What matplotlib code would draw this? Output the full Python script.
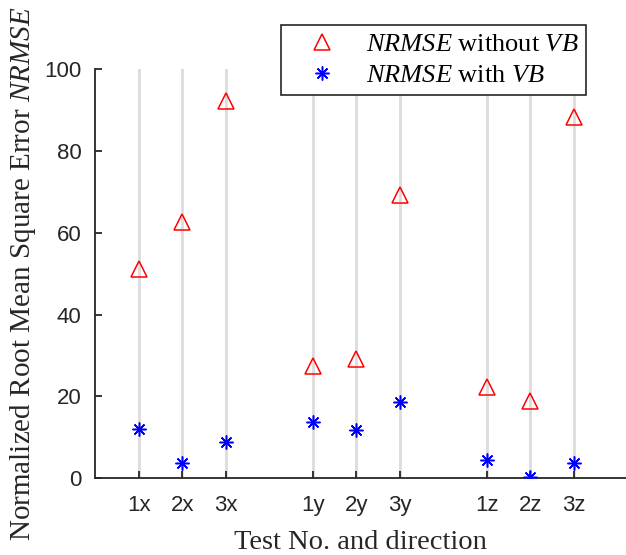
import numpy as np
import matplotlib
matplotlib.use('Agg')
import matplotlib.pyplot as plt

# data
tests = ['1x', '2x', '3x', '1y', '2y', '3y', '1z', '2z', '3z']
xpos = [1, 2, 3, 5, 6, 7, 9, 10, 11]
nrmseWithout = [51.1, 62.5, 92.2, 27.4, 29.1, 69.2, 22.4, 19.0, 88.3]
nrmseWith = [12.0, 3.8, 8.9, 13.7, 11.7, 18.6, 4.6, 0.3, 3.8]

plt.rcParams['mathtext.fontset'] = 'custom'
plt.rcParams['mathtext.rm'] = 'Liberation Serif'
plt.rcParams['mathtext.it'] = 'Liberation Serif:italic'

axcol = '#262626'

fig = plt.figure(figsize=(6.26, 5.55), dpi=100)
ax = fig.add_axes([0.152, 0.138, 0.848, 0.738])

# vertical grid at each test
for xp in xpos:
    ax.plot([xp, xp], [0, 100], color='#dcdcdc', linewidth=2, zorder=1)

ax.plot(xpos, nrmseWithout, linestyle='none', marker='^', markersize=11,
        markerfacecolor='none', markeredgecolor='r', markeredgewidth=1.1,
        label='$NRMSE$ without $VB$', zorder=3)
ax.plot(xpos, nrmseWith, linestyle='none', marker=(8, 2, 0), markersize=10,
        color='b', markeredgewidth=1.1,
        label='$NRMSE$ with $VB$', zorder=3)

ax.set_xlim(0, 12.2)
ax.set_ylim(0, 100)
ax.set_xticks(xpos)
ax.set_xticklabels(tests)
ax.set_yticks([0, 20, 40, 60, 80, 100])
ax.spines['top'].set_visible(False)
ax.spines['right'].set_visible(False)
for s in ['left', 'bottom']:
    ax.spines[s].set_color(axcol)
    ax.spines[s].set_linewidth(1.3)
ax.tick_params(direction='in', length=5, width=1.3, color=axcol,
               labelcolor=axcol)
ax.tick_params(axis='x', pad=12)
ax.tick_params(axis='y', pad=10)
for lab in ax.get_xticklabels() + ax.get_yticklabels():
    lab.set_family('Liberation Sans')
    lab.set_fontsize(16)

ax.set_xlabel('Test No. and direction', family='Liberation Serif',
              fontsize=20.5, color=axcol, labelpad=10)
ax.set_ylabel('Normalized Root Mean Square Error $NRMSE$',
              family='Liberation Serif', fontsize=21, color=axcol, labelpad=4)

leg = ax.legend(loc='upper right', bbox_to_anchor=(0.925, 1.108),
                borderaxespad=0,
                prop={'family': 'Liberation Serif', 'size': 19},
                fancybox=False, framealpha=1, edgecolor=axcol,
                handlelength=2.5, handletextpad=0.4, borderpad=0.3,
                labelspacing=0.3)
leg.set_zorder(5)
leg.get_frame().set_linewidth(1.2)
for t in leg.get_texts():
    t.set_color('k')

plt.savefig('out.png', dpi=100)
